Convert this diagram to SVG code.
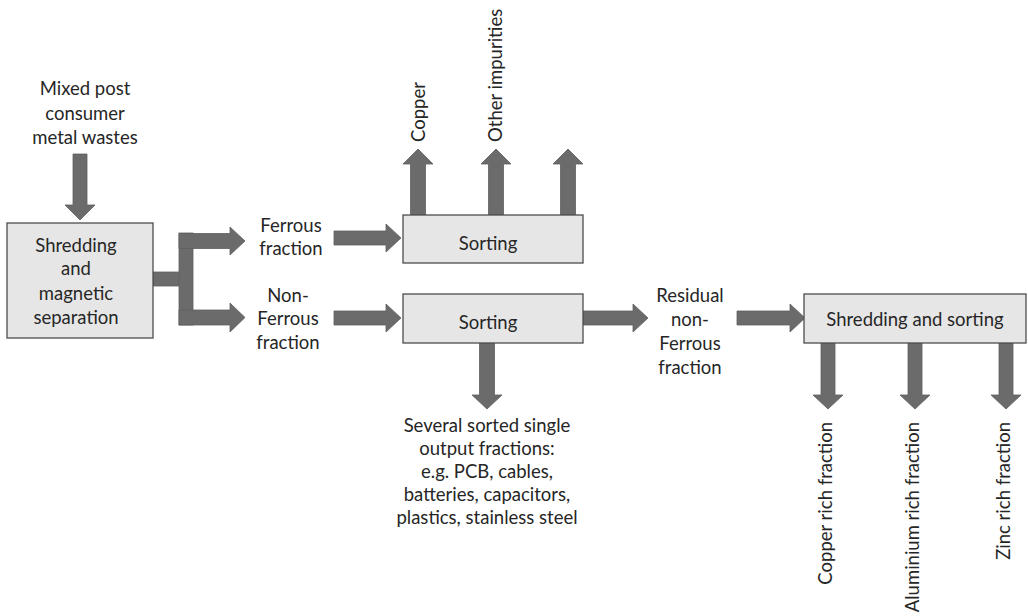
<svg xmlns="http://www.w3.org/2000/svg" width="1028" height="616" viewBox="0 0 1028 616">
<style>
  .box { fill: #e6e6e6; stroke: #4d4d4d; stroke-width: 1.3; }
  .arr { fill: #6b6b6b; stroke: #606060; stroke-width: 0.8; }
  .t { font-family: Lato, "Liberation Sans", sans-serif; font-size: 18.5px; fill: #262626; text-anchor: middle; }
  .vs { font-family: Lato, "Liberation Sans", sans-serif; font-size: 18.5px; fill: #262626; text-anchor: start; }
  .ve { font-family: Lato, "Liberation Sans", sans-serif; font-size: 18.5px; fill: #262626; text-anchor: end; }
</style>
<rect width="1028" height="616" fill="#ffffff"/>

<g id="connectors">
  <!-- input down arrow -->
  <polygon class="arr" points="73,154 87,154 87,205 95,205 80,220 65,205 73,205"/>
  <!-- branch stem and bar -->
  <rect class="arr" x="153" y="272" width="28" height="14"/>
  <rect class="arr" x="179" y="233" width="14" height="92"/>
  <polygon class="arr" points="179,233.5 230,233.5 230,227 245,241 230,255 230,248.5 179,248.5"/>
  <polygon class="arr" points="179,310 230,310 230,303 245,317.5 230,332 230,325 179,325"/>
  <!-- Ferrous -> Sorting -->
  <polygon class="arr" points="334,231 386,231 386,224 401,238 386,252 386,245 334,245"/>
  <!-- Non-Ferrous -> Sorting -->
  <polygon class="arr" points="334,311 386,311 386,304 401,318 386,332 386,325 334,325"/>
  <!-- Sorting -> Residual -->
  <polygon class="arr" points="583,311 633,311 633,304 648,318 633,332 633,325 583,325"/>
  <!-- Residual -> Shredding and sorting -->
  <polygon class="arr" points="737,311 790,311 790,304 805,318 790,332 790,325 737,325"/>
  <!-- up arrows from Sorting 1 -->
  <polygon class="arr" points="410.5,215 410.5,164 403,164 418,149 433,164 425.5,164 425.5,215"/>
  <polygon class="arr" points="488.5,215 488.5,164 481,164 496,149 511,164 503.5,164 503.5,215"/>
  <polygon class="arr" points="560.5,215 560.5,164 553,164 568,149 583,164 575.5,164 575.5,215"/>
  <!-- down arrow from Sorting 2 -->
  <polygon class="arr" points="479.5,343 494.5,343 494.5,395 502,395 487,409 472,395 479.5,395"/>
  <!-- down arrows from Shredding and sorting -->
  <polygon class="arr" points="821,343 835,343 835,395 843,395 828,409 813,395 821,395"/>
  <polygon class="arr" points="908,343 922,343 922,395 930,395 915,409 900,395 908,395"/>
  <polygon class="arr" points="999,343 1013,343 1013,395 1021,395 1006,409 991,395 999,395"/>
</g>

<g id="input">
  <text class="t" x="85" y="94.5">Mixed post</text>
  <text class="t" x="85" y="119.5">consumer</text>
  <text class="t" x="85" y="143.5">metal wastes</text>
</g>

<g id="shredding-magnetic">
  <rect class="box" x="7" y="223" width="146" height="115"/>
  <text class="t" x="76" y="251.5">Shredding</text>
  <text class="t" x="76" y="275">and</text>
  <text class="t" x="76" y="299.5">magnetic</text>
  <text class="t" x="76" y="323.5">separation</text>
</g>

<g id="ferrous-label">
  <text class="t" x="291" y="231.5">Ferrous</text>
  <text class="t" x="291" y="254.5">fraction</text>
</g>

<g id="nonferrous-label">
  <text class="t" x="288" y="301.5">Non-</text>
  <text class="t" x="288" y="324.5">Ferrous</text>
  <text class="t" x="288" y="348.5">fraction</text>
</g>

<g id="sorting-1">
  <rect class="box" x="403" y="215" width="180" height="48"/>
  <text class="t" x="488" y="249.5">Sorting</text>
</g>

<g id="copper-out">
  <text class="vs" transform="translate(424.5,142) rotate(-90)">Copper</text>
</g>
<g id="impurities-out">
  <text class="vs" transform="translate(501.5,142) rotate(-90)">Other impurities</text>
</g>

<g id="sorting-2">
  <rect class="box" x="403" y="294" width="180" height="49"/>
  <text class="t" x="488" y="328.5">Sorting</text>
</g>

<g id="sorted-outputs">
  <text class="t" x="487" y="431.5">Several sorted single</text>
  <text class="t" x="487" y="454.5">output fractions:</text>
  <text class="t" x="487" y="477.5">e.g. PCB, cables,</text>
  <text class="t" x="487" y="500.5">batteries, capacitors,</text>
  <text class="t" x="487" y="523.5">plastics, stainless steel</text>
</g>

<g id="residual-label">
  <text class="t" x="690" y="301.5">Residual</text>
  <text class="t" x="690" y="325.5">non-</text>
  <text class="t" x="690" y="349.5">Ferrous</text>
  <text class="t" x="690" y="373.5">fraction</text>
</g>

<g id="shredding-sorting">
  <rect class="box" x="804" y="294" width="222" height="49"/>
  <text class="t" x="915" y="325.5">Shredding and sorting</text>
</g>

<g id="copper-rich">
  <text class="ve" transform="translate(831.5,422) rotate(-90)">Copper rich fraction</text>
</g>
<g id="aluminium-rich">
  <text class="ve" transform="translate(918.5,422) rotate(-90)">Aluminium rich fraction</text>
</g>
<g id="zinc-rich">
  <text class="ve" transform="translate(1009.5,422) rotate(-90)">Zinc rich fraction</text>
</g>
</svg>
